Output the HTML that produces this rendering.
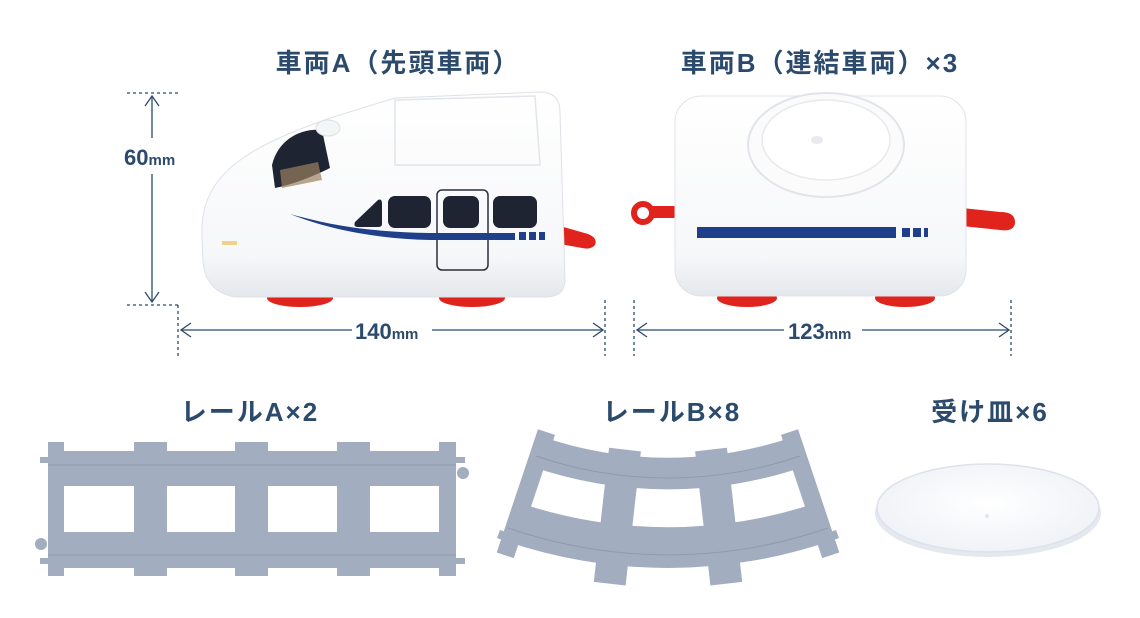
<!DOCTYPE html>
<html><head><meta charset="utf-8"><style>
html,body{margin:0;padding:0;background:#fff;width:1140px;height:618px;overflow:hidden;}
svg{display:block;}
text{font-family:"Liberation Sans","Noto Sans CJK JP",sans-serif;font-weight:bold;fill:#2b4a6c;}
</style></head><body>
<svg width="1140" height="618" viewBox="0 0 1140 618" xmlns="http://www.w3.org/2000/svg">
<defs>
<linearGradient id="bodyg" x1="0" y1="0" x2="0" y2="1"><stop offset="0" stop-color="#ffffff"/><stop offset="0.8" stop-color="#f6f7f9"/><stop offset="1" stop-color="#e4e7ec"/></linearGradient>
<radialGradient id="plate" cx="0.5" cy="0.45" r="0.6"><stop offset="0" stop-color="#ffffff"/><stop offset="1" stop-color="#eef1f6"/></radialGradient>
</defs>
<!-- titles -->
<text x="398" y="72" font-size="26" text-anchor="middle" letter-spacing="2">車両A（先頭車両）</text>
<text x="820" y="72" font-size="26" text-anchor="middle" letter-spacing="2">車両B（連結車両）×3</text>
<text x="250" y="421" font-size="26" text-anchor="middle" letter-spacing="2">レールA×2</text>
<text x="672" y="421" font-size="26" text-anchor="middle" letter-spacing="2">レールB×8</text>
<text x="990" y="421" font-size="26" text-anchor="middle" letter-spacing="2">受け皿×6</text>

<!-- dimension lines -->
<g stroke="#2b4a6c" stroke-width="1.3" fill="none">
<line x1="127" y1="93" x2="178" y2="93" stroke-dasharray="3,3"/>
<line x1="127" y1="305" x2="178" y2="305" stroke-dasharray="3,3"/>
<line x1="178" y1="305" x2="178" y2="356" stroke-dasharray="3,3"/>
<line x1="605" y1="300" x2="605" y2="356" stroke-dasharray="3,3"/>
<line x1="634" y1="300" x2="634" y2="356" stroke-dasharray="3,3"/>
<line x1="1011" y1="300" x2="1011" y2="356" stroke-dasharray="3,3"/>
<line x1="152" y1="97" x2="152" y2="138"/>
<line x1="152" y1="174" x2="152" y2="301"/>
<polyline points="145,106 152,96 159,106"/>
<polyline points="145,292 152,302 159,292"/>
<line x1="181" y1="330" x2="352" y2="330"/>
<line x1="432" y1="330" x2="603" y2="330"/>
<polyline points="191,323 181,330 191,337"/>
<polyline points="593,323 603,330 593,337"/>
<line x1="637" y1="330" x2="784" y2="330"/>
<line x1="862" y1="330" x2="1009" y2="330"/>
<polyline points="647,323 637,330 647,337"/>
<polyline points="999,323 1009,330 999,337"/>
</g>
<text x="124" y="165" font-size="22">60<tspan font-size="15">mm</tspan></text>
<text x="355" y="339" font-size="22">140<tspan font-size="15">mm</tspan></text>
<text x="788" y="339" font-size="22">123<tspan font-size="15">mm</tspan></text>

<!-- Train A -->
<g>
<path d="M560,226 L588,234 Q598,238 595,245 Q591,250 582,248 L560,244 Z" fill="#e0231c"/>
<ellipse cx="300" cy="298" rx="33" ry="9" fill="#e0231c"/>
<ellipse cx="472" cy="298" rx="33" ry="9" fill="#e0231c"/>
<path d="M202,235 C200,175 245,148 330,118 L395,98 L540,92 Q560,92 560,112 L565,280 Q565,297 545,297 L235,297 Q206,292 203,262 Z" fill="url(#bodyg)" stroke="#dde1e6" stroke-width="1"/>
<path d="M395,100 L535,96 L540,165 L395,165 Z" fill="none" stroke="#e2e5ea" stroke-width="1.5"/>
<path d="M272,165 C278,140 300,128 322,130 L330,168 C310,178 290,185 275,188 Z" fill="#1e2432"/>
<path d="M280,170 L318,162 L322,180 L282,188 Z" fill="#9a8060" opacity="0.7"/>
<ellipse cx="328" cy="128" rx="12" ry="8" fill="#f4f5f7" stroke="#dcdfe4"/>
<path d="M355,222 L378,200 Q382,198 382,204 L382,224 Q382,227 378,227 L358,227 Q353,227 355,222 Z" fill="#1e2432"/>
<rect x="388" y="196" width="43" height="32" rx="7" fill="#1e2432"/>
<rect x="443" y="196" width="36" height="32" rx="7" fill="#1e2432"/>
<rect x="493" y="196" width="44" height="32" rx="7" fill="#1e2432"/>
<rect x="437" y="190" width="51" height="80" rx="5" fill="none" stroke="#2a2f3a" stroke-width="1.5"/>
<path d="M290,214 C340,228 380,232 430,233 L515,233 L515,240 L430,240 C380,239 330,230 290,214 Z" fill="#1f3f8a"/>
<rect x="519" y="232" width="7" height="8" fill="#1f3f8a"/>
<rect x="529" y="232" width="7" height="8" fill="#1f3f8a"/>
<rect x="539" y="232" width="6" height="8" fill="#1f3f8a"/>
<rect x="222" y="241" width="15" height="4" fill="#f0d08a"/>
</g>

<!-- Car B -->
<g>
<ellipse cx="747" cy="298" rx="30" ry="9" fill="#e0231c"/>
<ellipse cx="905" cy="298" rx="30" ry="9" fill="#e0231c"/>
<circle cx="643" cy="213" r="9" fill="none" stroke="#e0231c" stroke-width="6"/>
<rect x="650" y="206" width="30" height="12" rx="3" fill="#e0231c"/>
<path d="M962,208 L1000,212 Q1015,212 1015,222 Q1015,232 1000,230 L962,226 Z" fill="#e0231c"/>
<rect x="675" y="96" width="291" height="200" rx="26" fill="url(#bodyg)" stroke="#e0e3e8"/>
<ellipse cx="826" cy="145" rx="78" ry="52" fill="#fbfbfc" stroke="#e1e4e9" stroke-width="2"/>
<ellipse cx="826" cy="140" rx="64" ry="40" fill="#ffffff" stroke="#e6e9ed" stroke-width="1.5"/>
<ellipse cx="817" cy="140" rx="6" ry="4" fill="#e8eaee"/>
<rect x="697" y="227" width="199" height="11" fill="#1f3f8a"/>
<rect x="902" y="228" width="8" height="9" fill="#1f3f8a"/>
<rect x="913" y="228" width="8" height="9" fill="#1f3f8a"/>
<rect x="924" y="228" width="4" height="9" fill="#1f3f8a"/>
</g>

<!-- Straight rail -->
<g fill="#a3adc0">
<rect x="48" y="442" width="16" height="134"/>
<rect x="134" y="442" width="33" height="134"/>
<rect x="235" y="442" width="33" height="134"/>
<rect x="337" y="442" width="33" height="134"/>
<rect x="439" y="442" width="17" height="134"/>
<rect x="48" y="451" width="408" height="35"/>
<rect x="40" y="457" width="425" height="6"/>
<rect x="48" y="532" width="408" height="36"/>
<rect x="40" y="558" width="425" height="6"/>
<circle cx="463" cy="473" r="6"/>
<circle cx="41" cy="544" r="6"/>
</g>
<g stroke="#8f9ab0" stroke-width="1" fill="none">
<line x1="48" y1="465" x2="456" y2="465"/>
<line x1="48" y1="555" x2="456" y2="555"/>
</g>

<!-- Curved rail (center 668,72) -->
<g fill="#a3adc0" stroke="none">
<g transform="rotate(18.5 668 72)"><rect x="658" y="452" width="18" height="130"/></g>
<g transform="rotate(-18.5 668 72)"><rect x="660" y="452" width="18" height="130"/></g>
<g transform="rotate(6.5 668 72)"><rect x="652" y="452" width="32" height="135"/></g>
<g transform="rotate(-6.5 668 72)"><rect x="652" y="452" width="32" height="135"/></g>
<path d="M540,436 A388,388 0 0 0 796,436 L806,466 A420,420 0 0 1 530,466 Z"/>
<path d="M535,444 A398,398 0 0 0 801,444 L803,451 A405,405 0 0 1 533,451 Z"/>
<path d="M517,502 A465,465 0 0 0 819,502 L833,538 A503,503 0 0 1 503,538 Z"/>
<path d="M500,530 A495,495 0 0 0 836,530 L839,538 A503,503 0 0 1 497,538 Z"/>
</g>
<g stroke="#8f9ab0" stroke-width="1" fill="none">
<path d="M536,456 A408,408 0 0 0 800,456"/>
<path d="M508,528 A490,490 0 0 0 828,528"/>
</g>

<!-- Plate -->
<ellipse cx="988" cy="513" rx="113" ry="44" fill="#e4e8ef"/>
<ellipse cx="988" cy="508" rx="111" ry="44" fill="url(#plate)" stroke="#dde2ea" stroke-width="1.5"/>
<circle cx="987" cy="516" r="2" fill="#e1e5ec"/>
</svg>
</body></html>
